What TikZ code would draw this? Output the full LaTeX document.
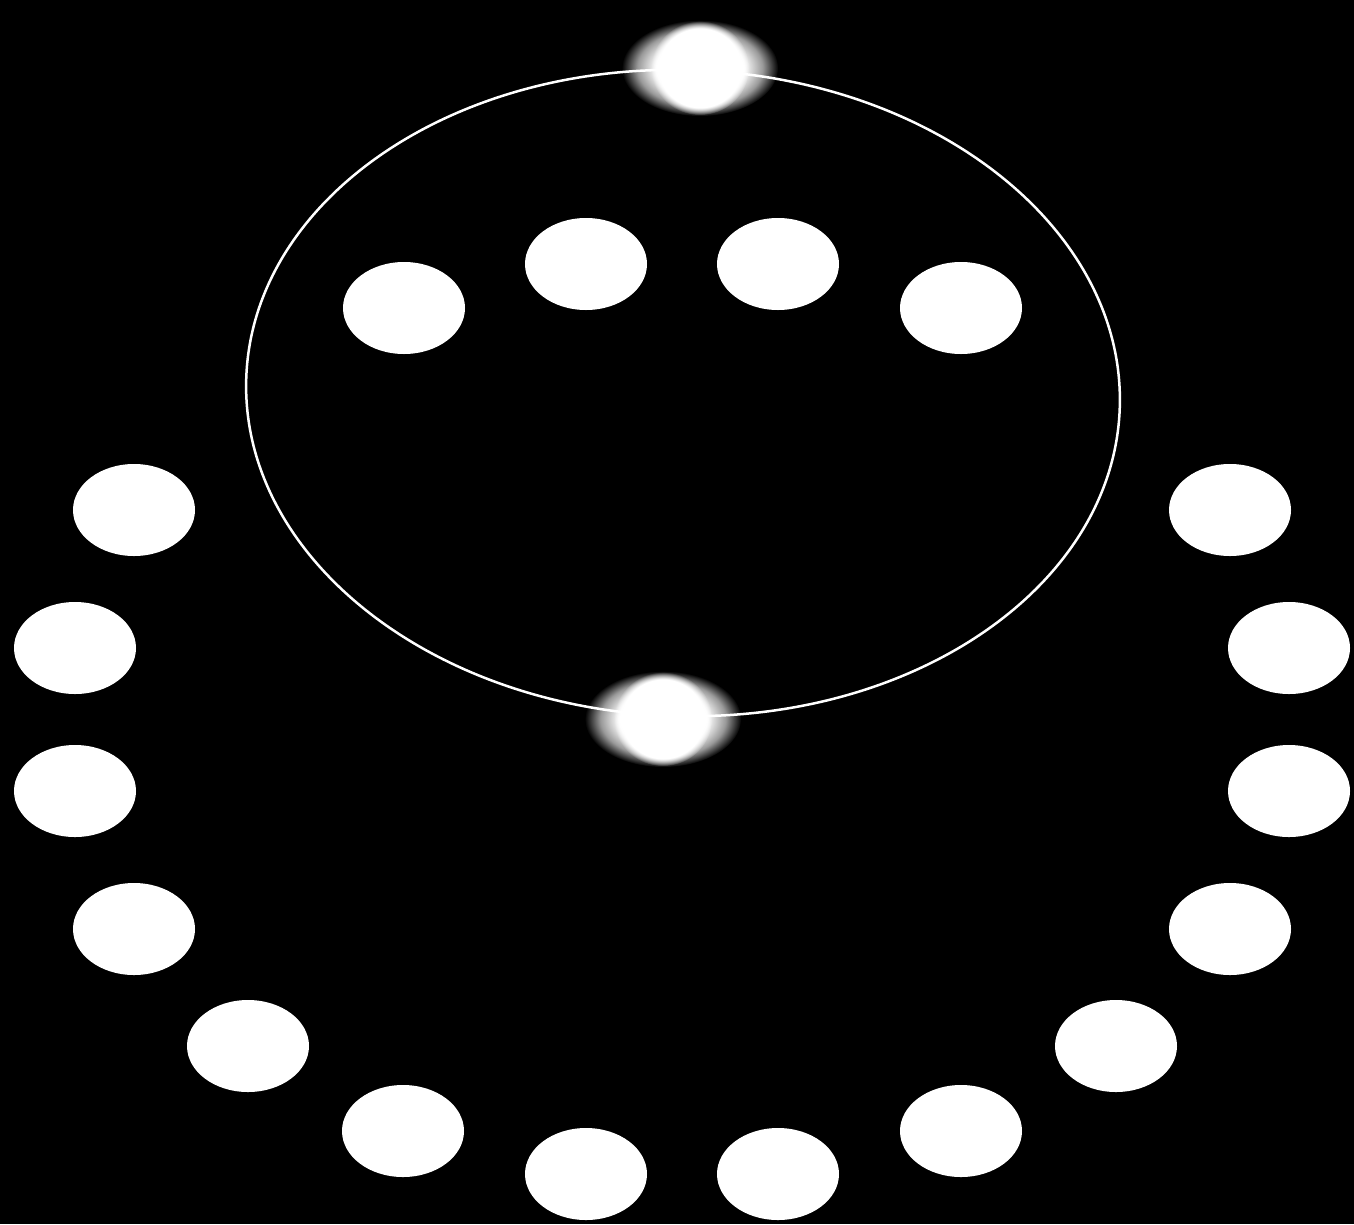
\documentclass[tikz,border=0pt]{standalone}
\usetikzlibrary{shapes.geometric,fadings}

% soft edges for the two bright blobs on the ring
\pgfdeclareradialshading{haloshade}{\pgfpointorigin}{color(0bp)=(pgftransparent!0); color(14bp)=(pgftransparent!0); color(20bp)=(pgftransparent!40); color(25bp)=(pgftransparent!100); color(50bp)=(pgftransparent!100)}
\pgfdeclarefading{halofade}{\pgfuseshading{haloshade}}
\pgfdeclareradialshading{coreshade}{\pgfpointorigin}{color(0bp)=(pgftransparent!0); color(21bp)=(pgftransparent!0); color(25bp)=(pgftransparent!100); color(50bp)=(pgftransparent!100)}
\pgfdeclarefading{corefade}{\pgfuseshading{coreshade}}

\begin{document}
\begin{tikzpicture}[x=1pt, y=-1pt, dot/.style={ellipse, fill=white, inner sep=0pt, minimum width=122pt, minimum height=92pt}, halo/.style={ellipse, fill=white, inner sep=0pt, minimum width=156pt, minimum height=96pt, path fading=halofade}, core/.style={ellipse, fill=white, inner sep=0pt, minimum width=98pt, minimum height=94pt, path fading=corefade}, ring/.style={draw=white, line width=2.5pt}]
\fill[black] (0,0) rectangle (1354,1224);
\useasboundingbox (0,0) rectangle (1354,1224);
% ring
\draw[ring, rotate around={-2:(683,393)}] (683,393) ellipse [x radius=437, y radius=323];
\node[halo] (halotop) at (700,68) {};
\node[core] (coretop) at (halotop) {};
\node[halo] (halobot) at (663,719) {};
\node[core] (corebot) at (halobot) {};
% inside the ring
\node[dot] (in1) at (404,308) {};
\node[dot] (in2) at (586,264) {};
\node[dot] (in3) at (778,264) {};
\node[dot] (in4) at (961,308) {};
% outer arc, left half
\node[dot] (l1) at (134,510) {};
\node[dot] (l2) at (75,648) {};
\node[dot] (l3) at (75,791) {};
\node[dot] (l4) at (134,929) {};
\node[dot] (l5) at (248,1046) {};
\node[dot] (l6) at (403,1131) {};
\node[dot] (l7) at (586,1174) {};
% outer arc, right half
\node[dot] (r1) at (1230,510) {};
\node[dot] (r2) at (1289,648) {};
\node[dot] (r3) at (1289,791) {};
\node[dot] (r4) at (1230,929) {};
\node[dot] (r5) at (1116,1046) {};
\node[dot] (r6) at (961,1131) {};
\node[dot] (r7) at (778,1174) {};
\end{tikzpicture}
\end{document}
